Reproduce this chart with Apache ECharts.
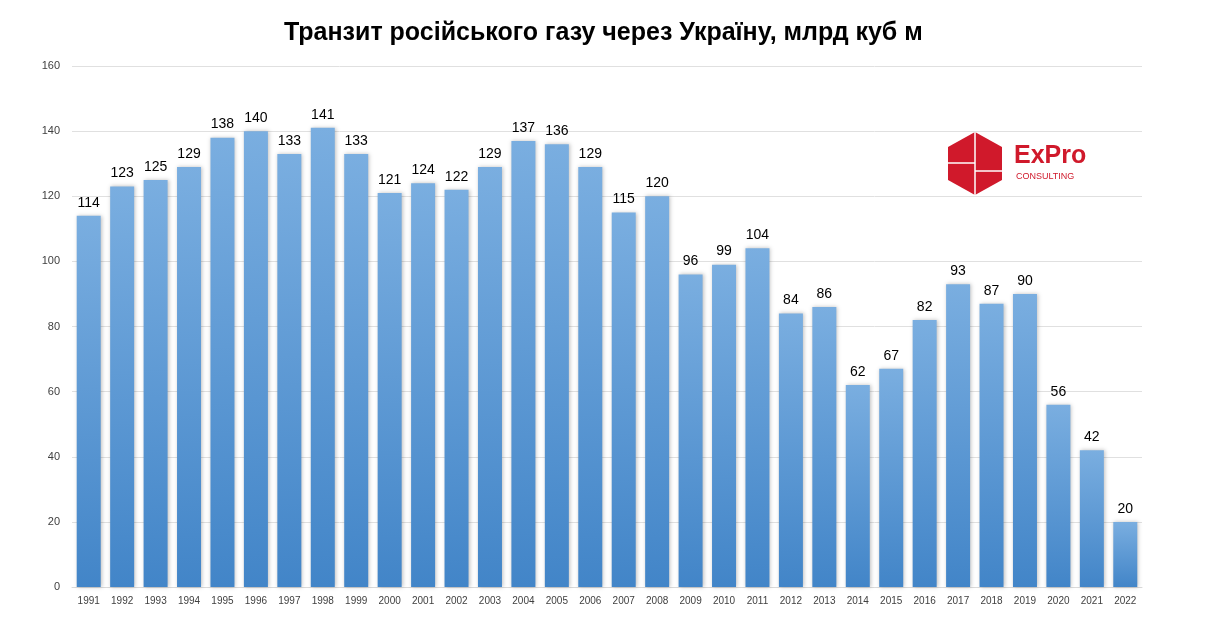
<!DOCTYPE html>
<html><head><meta charset="utf-8">
<script src="https://cdn.jsdelivr.net/npm/echarts@6/dist/echarts.min.js"></script>
<style>html,body{margin:0;padding:0;background:#fff}#c{width:1218px;height:634px}</style>
</head><body><div id="c"></div>
<script>
const years = ['1991','1992','1993','1994','1995','1996','1997','1998','1999','2000','2001','2002','2003','2004','2005','2006','2007','2008','2009','2010','2011','2012','2013','2014','2015','2016','2017','2018','2019','2020','2021','2022'];
const values = [114,123,125,129,138,140,133,141,133,121,124,122,129,137,136,129,115,120,96,99,104,84,86,62,67,82,93,87,90,56,42,20];
const yTicks = {min:0, max:160, interval:20};
const chart = echarts.init(document.getElementById('c'));
const red = '#d0192b';
chart.setOption({
  animation:false,
  title:{text:'Транзит російського газу через Україну, млрд куб м',left:279,top:16,
    textStyle:{fontFamily:'Liberation Sans, Arial',fontSize:25,fontWeight:'bold',color:'#000'}},
  grid:{left:72,right:76,top:66,bottom:47},
  xAxis:{type:'category',data:years,axisTick:{show:false},
    axisLine:{lineStyle:{color:'#d9d9d9'}},
    axisLabel:{color:'#404040',fontSize:10,fontFamily:'Liberation Sans, Arial',margin:9}},
  yAxis:{type:'value',min:yTicks.min,max:yTicks.max,interval:yTicks.interval,
    axisLine:{show:false},axisTick:{show:false},
    splitLine:{lineStyle:{color:'#e0e0e0'}},
    axisLabel:{color:'#404040',fontSize:11,fontFamily:'Liberation Sans, Arial',margin:12}},
  series:[{type:'bar',data:values,barWidth:24,
    itemStyle:{color:new echarts.graphic.LinearGradient(0,0,0,1,[{offset:0,color:'#7aaee0'},{offset:1,color:'#4285c8'}]),
      shadowColor:'rgba(0,0,0,0.25)',shadowBlur:4,shadowOffsetX:1,shadowOffsetY:0},
    label:{show:true,position:'top',color:'#000',fontSize:14,fontFamily:'Liberation Sans, Arial',distance:6}}],
  graphic:[
    {type:'polygon',shape:{points:[[975,132],[1002,147],[1002,180],[975,195],[948,180],[948,147]]},style:{fill:red}},
    {type:'line',shape:{x1:975,y1:130,x2:975,y2:197},style:{stroke:'#fff',lineWidth:1.5}},
    {type:'line',shape:{x1:946,y1:163,x2:975,y2:163},style:{stroke:'#fff',lineWidth:1.5}},
    {type:'line',shape:{x1:975,y1:171,x2:1004,y2:171},style:{stroke:'#fff',lineWidth:1.5}},
    {type:'text',left:1014,top:144,style:{text:'ExPro',fill:red,font:'bold 25px "Liberation Sans", Arial',letterSpacing:1}},
    {type:'text',left:1016,top:172,style:{text:'CONSULTING',fill:red,font:'9px "Liberation Sans", Arial'}}
  ]
});
</script></body></html>
